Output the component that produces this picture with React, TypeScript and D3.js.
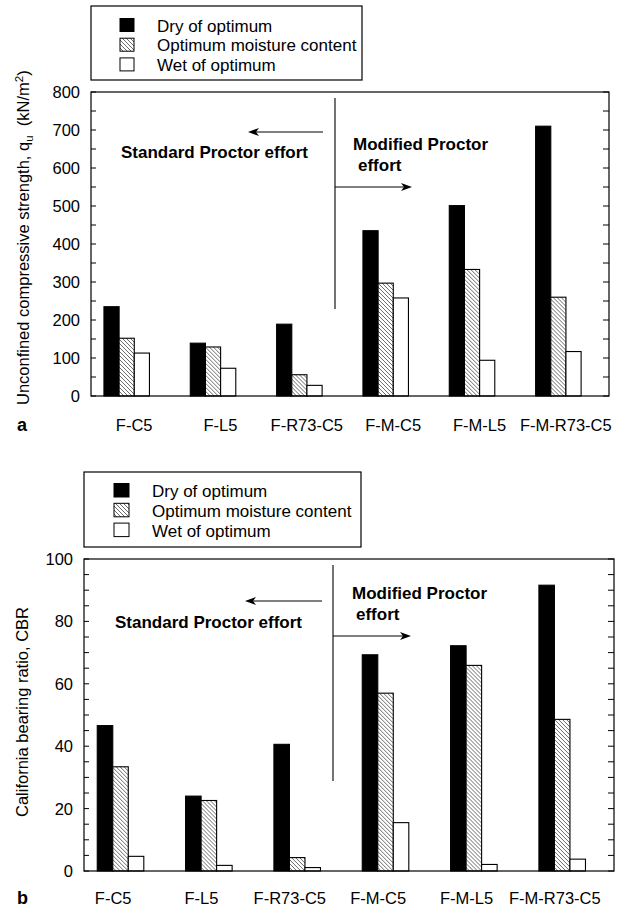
import React from "react";
import * as d3 from "d3";

const categories = ["F-C5", "F-L5", "F-R73-C5", "F-M-C5", "F-M-L5", "F-M-R73-C5"];
const seriesNames = ["Dry of optimum", "Optimum moisture content", "Wet of optimum"];

const qDry = [235, 139, 189, 435, 501, 710];
const qOpt = [152, 129, 56, 297, 333, 260];
const qWet = [113, 73, 28, 258, 94, 117];
const qTicks = [0, 100, 200, 300, 400, 500, 600, 700, 800];

const cbrDry = [46.6, 24.0, 40.6, 69.3, 72.2, 91.6];
const cbrOpt = [33.4, 22.6, 4.3, 57.0, 65.9, 48.6];
const cbrWet = [4.7, 1.8, 1.1, 15.5, 2.1, 3.8];
const cbrTicks = [0, 20, 40, 60, 80, 100];

const FONT = "'Liberation Sans', Arial, Helvetica, sans-serif";

function Arrow({ x1, x2, y }: { x1: number; x2: number; y: number }) {
  const dir = x2 > x1 ? 1 : -1;
  const L = 11;
  const W = 4;
  const back = x2 - dir * L;
  const notch = x2 - dir * (L - 3);
  return (
    <g>
      <line x1={x1} y1={y} x2={notch} y2={y} stroke="#000" strokeWidth={1.1} />
      <path d={`M${x2},${y} L${back},${y - W} L${notch},${y} L${back},${y + W} Z`} fill="#000" />
    </g>
  );
}

type PanelProps = {
  left: number; right: number; top: number; bottom: number;
  max: number; ticks: number[]; minorStep: number;
  dry: number[]; opt: number[]; wet: number[];
  legend: { x: number; y: number; w: number; h: number; sx: number; sy: number; tx: number; step: number; sw: number; sh: number };
  yLabel: React.ReactNode; yLabelX: number; yLabelY: number;
  catBaseline: number; catOffset: number; letter: string;
  sep: { x: number; y1: number; y2: number };
  leftArrow: { x1: number; x2: number; y: number };
  rightArrow: { x1: number; x2: number; y: number };
  std: { x: number; y: number };
  mod: { x: number; y: number; ex: number; ey: number };
  id: string;
};

function Panel(p: PanelProps) {
  const y = d3.scaleLinear().domain([0, p.max]).range([p.bottom, p.top]);
  const x0 = d3.scaleBand<string>().domain(categories).range([p.left, p.right]).paddingInner(0).paddingOuter(0);
  const bw = x0.bandwidth();
  const x1 = d3.scaleBand<string>().domain(seriesNames).range([0, bw * 0.527]).padding(0);
  const groupOff = bw * 0.15;
  const minor = d3.range(0, p.max + 0.001, p.minorStep);
  const fills = ["#000", `url(#hatch-${p.id})`, "#fff"];
  const seriesVals = [p.dry, p.opt, p.wet];
  const fs = 16.5;
  return (
    <g fontFamily={FONT}>
      <defs>
        <pattern id={`hatch-${p.id}`} patternUnits="userSpaceOnUse" width={4} height={4}>
          <rect width={4} height={4} fill="#fff" />
          <path d="M-1,-1 L5,5 M3,-1 L5,1 M-1,3 L1,5" stroke="#444" strokeWidth={0.8} />
        </pattern>
      </defs>
      {/* legend */}
      <rect x={p.legend.x} y={p.legend.y} width={p.legend.w} height={p.legend.h} fill="#fff" stroke="#000" strokeWidth={1.2} />
      {seriesNames.map((s, i) => (
        <g key={s}>
          <rect x={p.legend.sx} y={p.legend.sy + i * p.legend.step} width={p.legend.sw} height={p.legend.sh}
            fill={fills[i]} stroke="#000" strokeWidth={1} />
          <text x={p.legend.tx} y={p.legend.sy + i * p.legend.step + p.legend.sh} fontSize={17}>{s}</text>
        </g>
      ))}
      {/* bars */}
      {categories.map((c, ci) => (
        <g key={c} transform={`translate(${(x0(c) as number) + groupOff},0)`}>
          {seriesNames.map((s, si) => {
            const v = seriesVals[si][ci];
            return (
              <rect key={s} x={x1(s)} y={y(v)} width={x1.bandwidth()} height={p.bottom - y(v)}
                fill={fills[si]} stroke="#000" strokeWidth={1.1} />
            );
          })}
        </g>
      ))}
      {/* frame */}
      <rect x={p.left} y={p.top} width={p.right - p.left} height={p.bottom - p.top} fill="none" stroke="#000" strokeWidth={1.2} />
      {minor.map((t) => (
        <g key={t}>
          <line x1={p.left} x2={p.left + 5} y1={y(t)} y2={y(t)} stroke="#000" strokeWidth={1} />
          <line x1={p.right} x2={p.right - 6} y1={y(t)} y2={y(t)} stroke="#000" strokeWidth={1} />
        </g>
      ))}
      {p.ticks.map((t) => (
        <text key={t} x={p.left - 11} y={y(t) + 6} fontSize={fs} textAnchor="end">{t}</text>
      ))}
      {categories.map((c) => (
        <text key={c} x={(x0(c) as number) + bw / 2 + p.catOffset} y={p.catBaseline} fontSize={fs} textAnchor="middle">{c}</text>
      ))}
      <text x={17} y={p.catBaseline} fontSize={18} fontWeight="bold">{p.letter}</text>
      <text transform={`translate(${p.yLabelX},${p.yLabelY}) rotate(-90)`} fontSize={fs}>{p.yLabel}</text>
      {/* annotations */}
      <line x1={p.sep.x} x2={p.sep.x} y1={p.sep.y1} y2={p.sep.y2} stroke="#000" strokeWidth={1.1} />
      <Arrow {...p.leftArrow} />
      <Arrow {...p.rightArrow} />
      <text x={p.std.x} y={p.std.y} fontSize={17} fontWeight="bold">Standard Proctor effort</text>
      <text x={p.mod.x} y={p.mod.y} fontSize={17} fontWeight="bold">Modified Proctor</text>
      <text x={p.mod.ex} y={p.mod.ey} fontSize={17} fontWeight="bold">effort</text>
    </g>
  );
}

export default function App() {
  return (
    <svg width={624} height={915} viewBox="0 0 624 915"
      style={{ position: "absolute", left: 0, top: 0, background: "#fff" }}>
      <rect width={624} height={915} fill="#fff" />
      <Panel
        id="a" left={91} right={609} top={92} bottom={396} max={800} ticks={qTicks} minorStep={50}
        dry={qDry} opt={qOpt} wet={qWet}
        legend={{ x: 91, y: 6, w: 271, h: 74, sx: 120, sy: 18.5, tx: 157, step: 19.7, sw: 14, sh: 13 }}
        yLabel={<>Unconfined compressive strength, q<tspan dy={4} fontSize={11.5}>u</tspan><tspan dy={-4}>{"\u00a0\u00a0(kN/m"}</tspan><tspan dy={-6} fontSize={11.5}>2</tspan><tspan dy={6}>)</tspan></>}
        yLabelX={29} yLabelY={405}
        catBaseline={431} catOffset={0} letter="a"
        sep={{ x: 335, y1: 98, y2: 309 }}
        leftArrow={{ x1: 323, x2: 248, y: 132 }}
        rightArrow={{ x1: 335, x2: 412, y: 187 }}
        std={{ x: 121, y: 158 }}
        mod={{ x: 353, y: 150, ex: 358, ey: 171 }}
      />
      <Panel
        id="b" left={84} right={614} top={559} bottom={871} max={100} ticks={cbrTicks} minorStep={5}
        dry={cbrDry} opt={cbrOpt} wet={cbrWet}
        legend={{ x: 84, y: 472, w: 277, h: 75, sx: 114, sy: 483.5, tx: 152, step: 19.8, sw: 15, sh: 13.5 }}
        yLabel={<>California bearing ratio, CBR</>}
        yLabelX={28} yLabelY={817}
        catBaseline={904} catOffset={-15} letter="b"
        sep={{ x: 333, y1: 565, y2: 781 }}
        leftArrow={{ x1: 322, x2: 245, y: 601 }}
        rightArrow={{ x1: 333, x2: 411, y: 636 }}
        std={{ x: 115, y: 628 }}
        mod={{ x: 352, y: 599, ex: 356, ey: 620 }}
      />
    </svg>
  );
}
